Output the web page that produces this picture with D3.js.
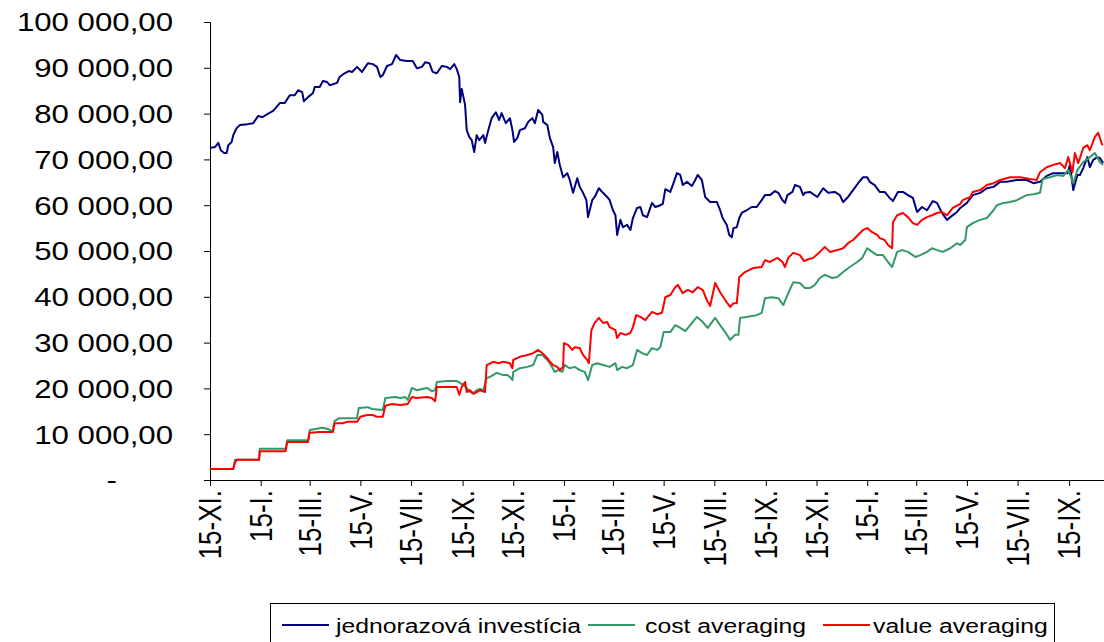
<!DOCTYPE html>
<html>
<head>
<meta charset="utf-8">
<script src="https://cdn.jsdelivr.net/npm/d3@7"></script>
<style>
  body { margin: 0; background: #fff; }
  svg text { font-family: "Liberation Sans", Arial, sans-serif; fill: #000; }
</style>
</head>
<body>
<svg id="chart" width="1104" height="642"></svg>
<script>
// day offsets are counted from 15-XI of the first year
const startDate = new Date(2000, 10, 15);
const endDate = new Date(2003, 9, 27);

const romanMonths = ["I.", "II.", "III.", "IV.", "V.", "VI.", "VII.", "VIII.", "IX.", "X.", "XI.", "XII."];
const seriesNames = ["jednorazová investícia", "cost averaging", "value averaging"];
const seriesColors = ["#000080", "#339966", "#ff0000"];

const investDays = [0,6,10,13,17,20,22,26,28,32,36,45,52,58,63,69,76,84,90,96,102,106,111,113,118,124,126,132,136,141,144,153,156,162,167,171,177,183,190,196,201,205,208,213,219,224,229,237,244,249,255,259,264,268,273,279,285,289,294,297,300,301,303,307,309,312,315,318,321,324,329,331,335,339,344,348,351,356,361,364,366,370,373,379,383,388,391,395,400,401,406,409,413,415,418,421,425,430,433,437,442,445,449,453,455,460,463,468,473,478,481,485,488,490,494,497,502,506,509,514,518,521,526,532,536,542,545,548,554,557,562,566,569,574,580,584,587,592,596,602,610,614,617,622,625,628,630,634,637,640,646,652,658,664,668,674,680,684,689,692,695,701,704,710,714,716,722,731,738,744,752,758,762,768,774,780,786,791,794,800,806,812,818,822,828,834,840,846,851,857,863,870,875,881,887,891,899,903,911,918,927,935,943,951,959,971,983,991,999,1007,1015,1023,1032,1035,1039,1044,1047,1051,1056,1059,1063,1068,1071,1075];
const investValues = [72500,72700,73600,72000,71400,71400,73100,73800,75300,76800,77500,77700,77900,79500,79200,79900,80600,82300,82300,84000,84000,85100,84700,82700,83600,84500,85800,85800,87100,86900,86200,86700,88000,88800,89300,89100,90200,89100,91000,90800,90200,88000,88400,90400,90800,92800,91700,91500,91500,89900,90200,91200,91000,89100,88800,90400,90200,89700,90800,89700,88000,82500,85400,81900,76400,74900,74200,71600,75300,74200,75300,73600,76400,79000,80300,78600,80100,77900,79000,76400,73800,74700,76400,76800,78200,79000,77900,80800,79700,78200,77500,74700,72700,69200,71600,68800,66100,67000,65500,62700,65900,64000,62700,61100,57400,61100,61800,63700,62700,61800,61100,58900,57800,53500,56800,55200,55700,54600,57200,59400,59600,57800,57400,60500,59600,60000,60300,63500,62900,64400,67000,66600,64400,65100,64200,65500,66600,65500,61800,60700,60700,58900,57200,55700,53500,53000,55000,55200,57200,58300,58900,59600,59600,61100,62200,62200,63100,62700,61100,60500,62200,62900,64400,64000,62200,62700,62900,61800,63700,62700,62900,62200,60700,61800,63300,64800,66100,66100,65100,64400,62900,62900,61600,60900,62900,62900,62200,61600,58500,59600,58900,60900,60500,58300,56800,57400,58500,59400,60500,62200,62700,63700,64000,65100,65100,65500,65500,64800,65100,66400,67000,67000,67000,68800,63300,66600,66600,68100,70500,68300,69900,70500,70300,69200];

const costDays = [0,28,30,59,60,91,93,118,120,135,143,147,150,156,177,179,190,195,208,211,223,229,235,238,243,249,261,267,271,273,285,297,301,305,309,313,317,321,325,329,333,337,345,353,358,361,364,365,373,382,389,394,400,406,409,415,419,424,427,433,439,445,451,455,460,466,473,481,488,490,496,502,509,514,520,526,532,538,542,546,554,560,566,572,578,586,593,599,608,614,620,626,632,636,638,646,658,664,668,676,684,690,696,702,710,716,722,728,734,740,749,755,762,770,779,785,791,797,803,810,816,821,827,833,840,849,855,863,869,875,882,891,899,903,909,911,918,927,935,943,947,955,963,971,983,991,999,1002,1011,1020,1027,1033,1039,1044,1051,1059,1065,1071,1075];
const costValues = [2400,2400,4400,4400,6800,6800,8700,8700,10900,11400,11100,10500,12900,13500,13500,15700,15900,15500,15300,17900,18100,17900,18100,17500,20100,19600,20100,19400,19600,21400,21600,21600,21200,20700,20100,19200,19000,19600,19900,19600,22300,22500,23400,22900,22900,22500,21800,23600,24400,24700,25100,27300,27300,26200,25500,23600,24000,23600,25100,24400,24700,24000,23600,21800,25100,25500,25100,24700,25500,24000,24700,24400,25100,28400,27700,27300,28800,28400,29000,32300,32300,33800,33200,32500,33800,35600,34500,33200,35400,33800,32300,30600,31700,31700,35400,35600,36000,36500,39700,39900,39700,38200,40800,43200,43000,41900,41900,42600,44100,44800,44100,44300,45400,46500,47600,48500,50600,49800,49100,49100,47600,46500,49800,50200,49800,48700,49100,49800,50600,50200,49800,50600,51700,51300,52400,55200,56100,56800,57200,58900,60000,60500,60700,61100,62200,62400,62700,65700,66100,66600,66400,67700,64800,67700,69400,70500,71400,69400,68800];

const valueDays = [0,28,30,32,59,60,91,93,118,120,132,148,150,160,165,177,181,189,196,201,208,211,219,229,238,243,249,261,267,271,273,285,297,300,303,307,309,313,317,321,325,331,333,341,347,353,361,364,365,373,382,389,395,400,406,409,413,418,421,425,426,431,436,439,445,449,454,456,459,463,468,473,478,481,488,490,494,500,506,509,513,518,524,527,532,538,544,548,554,560,563,569,575,581,587,593,598,602,608,614,620,626,630,634,637,644,654,664,668,674,683,689,692,696,702,710,715,720,726,734,740,746,755,762,768,774,780,786,791,797,803,806,812,816,821,822,827,834,840,846,851,857,863,869,875,881,887,894,903,906,915,918,927,935,943,951,963,975,987,995,999,1007,1015,1023,1029,1033,1038,1041,1045,1051,1056,1059,1065,1069,1074];
const valueValues = [2400,2400,3700,4400,4400,6300,6300,8300,8300,10300,10500,10500,12400,12400,12700,12700,13800,14200,14200,13800,13800,16200,16600,16400,16600,18100,17900,18100,17900,17200,20300,20300,20300,18600,20300,21400,19200,19600,18800,19200,19600,19200,25100,25800,25500,25800,25500,24400,26200,26900,27300,27700,28400,27700,26600,25800,25100,24700,24000,24700,29900,29500,28400,29000,28800,27300,26200,25500,32700,34300,35400,34300,34500,33400,32700,31000,32100,31700,32100,33400,36000,35600,34900,35600,36700,36200,36500,39900,40400,42100,42600,40800,41500,41000,42100,41500,39300,38000,43000,41000,39300,37800,38600,38600,44300,45400,46300,46500,48000,47600,48500,47600,46500,48500,49600,49100,47800,48200,48500,49800,50900,49800,50200,50600,51700,52400,53500,54600,55000,54100,53500,52800,52400,51300,50600,56300,57800,58300,57400,56100,55700,56800,57400,57800,58300,58500,57800,59400,60300,61100,61800,62900,63300,64400,64800,65500,66100,66100,65700,65500,67200,68300,68800,69200,68100,70500,67200,71400,69200,72500,73100,72000,74900,75800,73100];

const yTicks = d3.range(0, 100001, 10000);

const svg = d3.select("#chart");
const plotLeft = 210, plotRight = 1104, plotTop = 22, plotBottom = 480;
// the original picture is stretched sideways, text included
const stretch = 1.2;

const x = d3.scaleTime().domain([startDate, endDate]).range([plotLeft, plotRight]);
const y = d3.scaleLinear().domain([0, 100000]).range([plotBottom, plotTop]);

const skNum = d3.formatLocale({ decimal: ",", thousands: "\u00a0", grouping: [3] }).format(",.2f");

// y axis
const yAxis = svg.append("g")
  .attr("transform", "translate(" + plotLeft + ",0)")
  .call(d3.axisLeft(y).tickValues(yTicks).tickSize(6).tickFormat(""));
yAxis.selectAll("line, path").attr("stroke", "#000").attr("stroke-width", 1);

svg.append("g").selectAll("text")
  .data(yTicks)
  .join("text")
  .attr("transform", d => "translate(" + (d === 0 ? 117 : 173) + "," + y(d) + ") scale(" + stretch + ",1)")
  .attr("dy", "0.36em")
  .attr("text-anchor", "end")
  .style("font-size", "26px")
  .text(d => d === 0 ? "-" : skNum(d));

// x axis, ticks on the 15th of every second month
const tickDates = d3.range(18).map(i => new Date(2000, 10 + 2 * i, 15));
const xAxis = svg.append("g")
  .attr("transform", "translate(0," + plotBottom + ")")
  .call(d3.axisBottom(x).tickValues(tickDates).tickSize(6).tickFormat(""));
xAxis.selectAll("line, path").attr("stroke", "#000").attr("stroke-width", 1);

svg.append("g").selectAll("text")
  .data(tickDates)
  .join("text")
  .attr("transform", d => "translate(" + x(d) + "," + (plotBottom + 10) + ") scale(" + stretch + ",1) rotate(-90)")
  .attr("dy", "0.36em")
  .attr("text-anchor", "end")
  .style("font-size", "26px")
  .text(d => "15-" + romanMonths[d.getMonth()]);

// lines
const line = d3.line()
  .x(d => x(d3.timeDay.offset(startDate, d[0])))
  .y(d => y(d[1]));

const series = [
  d3.zip(investDays, investValues),
  d3.zip(costDays, costValues),
  d3.zip(valueDays, valueValues)
];

svg.append("defs").append("clipPath").attr("id", "plot")
  .append("rect").attr("x", plotLeft).attr("y", 0).attr("width", plotRight - plotLeft).attr("height", plotBottom);

svg.append("g").attr("clip-path", "url(#plot)")
  .selectAll("path")
  .data(series)
  .join("path")
  .attr("d", line)
  .attr("fill", "none")
  .attr("stroke", (d, i) => seriesColors[i])
  .attr("stroke-width", 2)
  .attr("stroke-linejoin", "round");

// legend
const legend = svg.append("g");
legend.append("rect")
  .attr("x", 270.5).attr("y", 603.5)
  .attr("width", 784).attr("height", 50)
  .attr("fill", "#fff").attr("stroke", "#000");

const legendLineX = [282, 588, 823];
const legendTextX = [336, 645, 873];
const item = legend.selectAll("g.item")
  .data(seriesNames)
  .join("g");
item.append("line")
  .attr("x1", (d, i) => legendLineX[i]).attr("x2", (d, i) => legendLineX[i] + 47)
  .attr("y1", 625).attr("y2", 625)
  .attr("stroke", (d, i) => seriesColors[i])
  .attr("stroke-width", 2);
item.append("text")
  .attr("transform", (d, i) => "translate(" + legendTextX[i] + ",625) scale(1.18,1)")
  .attr("dy", "0.36em")
  .style("font-size", "21px")
  .text(d => d);
</script>
</body>
</html>
